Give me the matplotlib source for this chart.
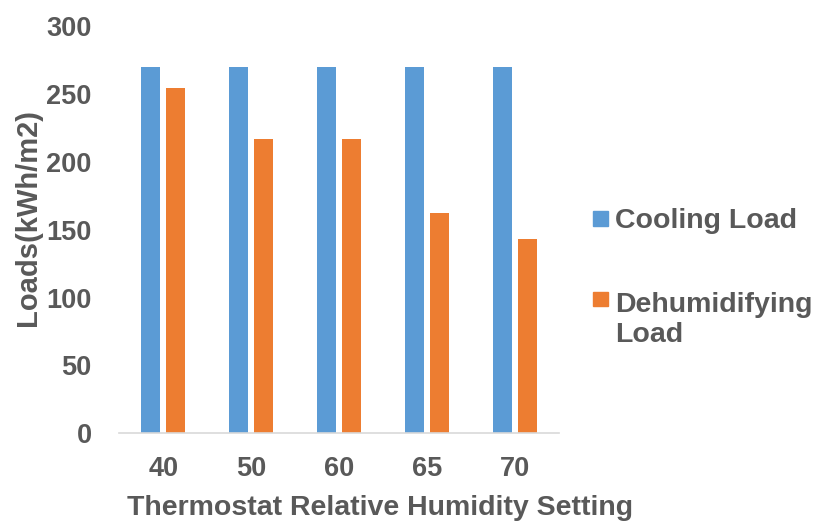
import numpy as np
import matplotlib
matplotlib.use("Agg")
import matplotlib.pyplot as plt
from matplotlib.patches import Rectangle

# data
settings = ["40", "50", "60", "65", "70"]
cooling = [270, 270, 270, 270, 270]
dehumid = [254, 217, 217, 162, 143]

blue = "#5B9BD5"
orange = "#ED7D31"
grey = "#595959"

plt.rcParams["font.family"] = ["Liberation Sans", "DejaVu Sans"]
plt.rcParams["font.weight"] = "bold"

fig = plt.figure(figsize=(8.16, 5.25), dpi=100)
ax = fig.add_axes([0.1462, 0.1747, 0.539, 0.7758])

x = np.arange(len(settings))
w = 0.216
off = 0.144
ax.bar(x - off, cooling, w, color=blue)
ax.bar(x + off, dehumid, w, color=orange)

ax.set_xlim(-0.5, len(settings) - 0.5)
ax.set_ylim(0, 300)
ax.set_yticks(np.arange(0, 301, 50))
ax.set_xticks(x)
ax.set_xticklabels(settings)

for s in ["top", "right", "left"]:
    ax.spines[s].set_visible(False)
ax.spines["bottom"].set_color("#D9D9D9")
ax.spines["bottom"].set_linewidth(1.2)

ax.tick_params(axis="y", length=0, pad=20, labelsize=19.5, labelcolor=grey)
ax.tick_params(axis="x", length=0, pad=16, labelsize=19.5, labelcolor=grey)

ax.set_xlabel("Thermostat Relative Humidity Setting", fontsize=20.5,
              color=grey, fontweight="bold")
ax.xaxis.set_label_coords(0.5925, -0.1835)
ax.xaxis.label.set_va("center")
ax.set_ylabel("Loads(kWh/m2)", fontsize=21, color=grey, fontweight="bold")
ax.yaxis.set_label_coords(-0.2075, 0.53)
ax.yaxis.label.set_va("center")

# legend, drawn by hand so the marker sits on the first line
H = 525.0
W = 816.0
fs = 20.5
cap = 0.716 * fs * 100 / 72 / 2
legend_rows = [(blue, 219, [(217.7, "Cooling Load")]),
               (orange, 299, [(301.7, "Dehumidifying"), (331.7, "Load")])]
for col, ymark, lines in legend_rows:
    fig.patches.append(Rectangle((593 / W, 1 - (ymark + 7) / H), 14.5 / W, 14.5 / H,
                                 transform=fig.transFigure, color=col))
    for yc, lab in lines:
        fig.text(615 / W, 1 - (yc + cap) / H, lab, fontsize=fs, color=grey,
                 fontweight="bold", va="baseline", ha="left")

fig.savefig("out.png", dpi=100)
